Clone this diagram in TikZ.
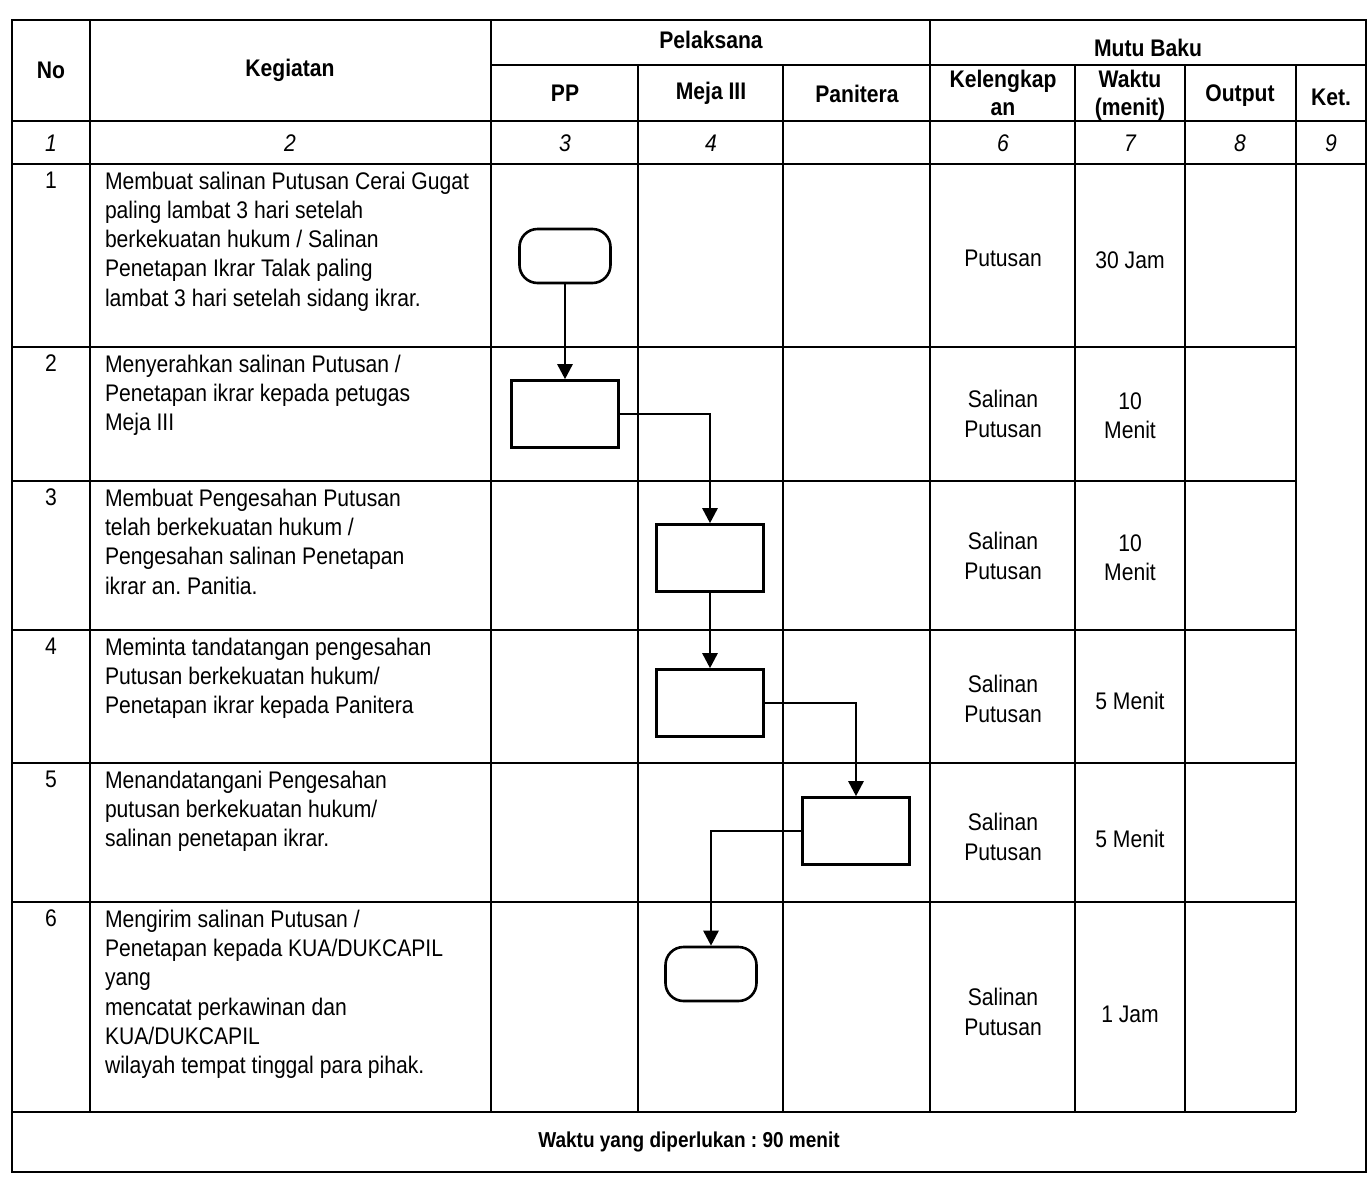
\documentclass[tikz,border=0pt]{standalone}
\usepackage{fontspec}
\setmainfont{Liberation Sans}[FakeStretch=0.88]
\usetikzlibrary{arrows.meta}
\frenchspacing
\tikzset{every picture/.style={line width=1pt}}
\tikzset{
  flowbox/.style={draw, line width=1.3pt, minimum width=53.5pt, minimum height=33.5pt, inner sep=0pt},
  flowend/.style={draw, line width=1.3pt, rounded corners=9pt, minimum width=45.5pt, minimum height=27pt, inner sep=0pt},
  flowline/.style={line width=1.3pt, -{Triangle[width=7.5pt,length=7.5pt]}},
  headtext/.style={font=\fontsize{12}{14}\selectfont\bfseries, align=center, inner sep=0pt},
  numtext/.style={font=\fontsize{12}{14}\selectfont\itshape, inner sep=0pt},
  celltext/.style={font=\fontsize{12}{14.6}\selectfont, align=center, inner sep=0pt},
  steptext/.style={font=\fontsize{12}{14.6}\selectfont, align=left, anchor=north west, inner sep=0pt}
}

\begin{document}
\begin{tikzpicture}[x=0.5pt,y=0.5pt,yscale=-1,xscale=1]
\useasboundingbox (0,0) rectangle (1372,1184);

%Shape: Rectangle [outer frame]
\draw (12,20) rectangle (1366,1172);
%Straight Lines [header rows]
\draw (491,65) -- (1366,65);
\draw (12,121) -- (1366,121);
\draw (12,164) -- (1366,164);
%Straight Lines [body rows]
\foreach \y in {347,481,630,763,902,1112} \draw (12,\y) -- (1296,\y);
%Straight Lines [columns]
\foreach \x in {90,491,930} \draw (\x,20) -- (\x,1112);
\foreach \x in {638,783,1075,1185,1296} \draw (\x,65) -- (\x,1112);

% Text Node
\node[headtext] (hno) at (51,70) {No};
\node[headtext] (hkeg) at (290,70) {Kegiatan};
\node[headtext] (hpel) at (711,40) {Pelaksana};
\node[headtext] (hmutu) at (1148,48) {Mutu Baku};
\node[headtext] (hpp) at (565,93) {PP};
\node[headtext] (hmeja) at (711,93) {Meja III};
\node[headtext] (hpan) at (857,94) {Panitera};
\node[headtext] (hkel) at (1003,93) {Kelengkap\\an};
\node[headtext] (hwak) at (1130,95) {Waktu\\(menit)};
\node[headtext] (hout) at (1240,96) {Output};
\node[headtext] (hket) at (1331,97) {Ket.};
% Text Node [column numbers]
\foreach \x/\t in {51/1,290/2,565/3,711/4,1003/6,1130/7,1240/8,1331/9}
  \node[numtext] (col\t) at (\x,143) {\t};

% Text Node [row numbers]
\foreach \y/\t in {171/1,354/2,488/3,637/4,770/5,909/6}
  \node[celltext, anchor=north] (no\t) at (51,\y) {\t};

% Text Node
\node[steptext] (keg1) at (104,171) {Membuat salinan Putusan Cerai Gugat\\paling lambat 3 hari setelah\\berkekuatan hukum / Salinan\\Penetapan Ikrar Talak paling\\lambat 3 hari setelah sidang ikrar.};
% Text Node
\node[steptext] (keg2) at (104,354) {Menyerahkan salinan Putusan /\\Penetapan ikrar kepada petugas\\Meja III};
% Text Node
\node[steptext] (keg3) at (104,488) {Membuat Pengesahan Putusan\\telah berkekuatan hukum /\\Pengesahan salinan Penetapan\\ikrar an. Panitia.};
% Text Node
\node[steptext] (keg4) at (104,637) {Meminta tandatangan pengesahan\\Putusan berkekuatan hukum/\\Penetapan ikrar kepada Panitera};
% Text Node
\node[steptext] (keg5) at (104,770) {Menandatangani Pengesahan\\putusan berkekuatan hukum/\\salinan penetapan ikrar.};
% Text Node
\node[steptext] (keg6) at (104,909) {Mengirim salinan Putusan /\\Penetapan kepada KUA/DUKCAPIL\\yang\\mencatat perkawinan dan\\KUA/DUKCAPIL\\wilayah tempat tinggal para pihak.};

% Text Node [kelengkapan]
\node[celltext] (kel1) at (1003,258) {Putusan};
\node[celltext] (kel2) at (1003,414) {Salinan\\Putusan};
\node[celltext] (kel3) at (1003,556) {Salinan\\Putusan};
\node[celltext] (kel4) at (1003,699) {Salinan\\Putusan};
\node[celltext] (kel5) at (1003,837) {Salinan\\Putusan};
\node[celltext] (kel6) at (1003,1012) {Salinan\\Putusan};
% Text Node [waktu]
\node[celltext] (wak1) at (1130,260) {30 Jam};
\node[celltext] (wak2) at (1130,416) {10\\Menit};
\node[celltext] (wak3) at (1130,558) {10\\Menit};
\node[celltext] (wak4) at (1130,701) {5 Menit};
\node[celltext] (wak5) at (1130,839) {5 Menit};
\node[celltext] (wak6) at (1130,1014) {1 Jam};

%Shape: Rounded Rect [start]
\node[flowend] (start) at (565,256) {};
%Shape: Rectangle
\node[flowbox] (step2) at (565,414) {};
\node[flowbox] (step3) at (710,558) {};
\node[flowbox] (step4) at (710,703) {};
\node[flowbox] (step5) at (856,831) {};
%Shape: Rounded Rect [finish]
\node[flowend] (finish) at (711,974) {};

%Straight Lines [flow]
\draw[flowline] (start) -- (step2);
\draw[flowline] (step2.east) -| (step3.north);
\draw[flowline] (step3) -- (step4);
\draw[flowline] (step4.east) -| (step5.north);
\draw[flowline] (step5.west) -| (finish.north);

% Text Node
\node[font=\fontsize{10.8}{13}\selectfont\bfseries] (total) at (689,1142) {Waktu yang diperlukan : 90 menit};

\end{tikzpicture}
\end{document}
